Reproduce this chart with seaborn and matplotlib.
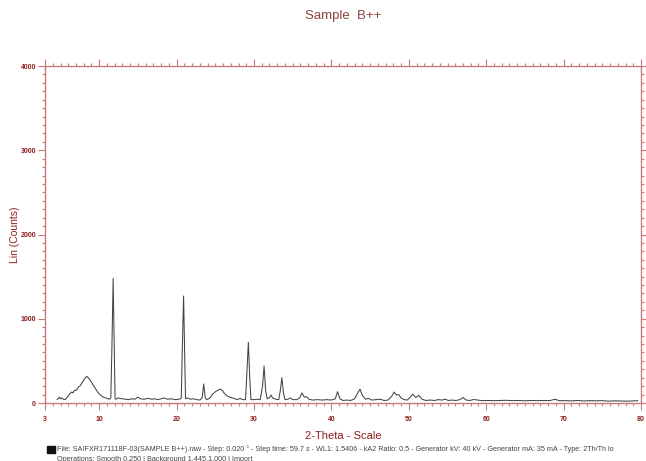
import matplotlib
matplotlib.use("Agg")
import numpy as np
import pandas as pd
import seaborn as sns
import matplotlib.pyplot as plt
from matplotlib.ticker import FixedLocator, MultipleLocator
from matplotlib.patches import Rectangle

# 2-theta positions (deg) and intensities (counts)
two_theta = [4.55, 4.7, 4.85, 5.0, 5.15, 5.35, 5.6, 5.8, 6.0, 6.2, 6.45, 6.6, 6.8, 7.1, 7.3, 7.5,
             7.75, 8.0, 8.2, 8.4, 8.6, 8.8, 9.1, 9.45, 9.8, 10.1, 10.5, 11.0, 11.3, 11.5, 11.65,
             11.8, 11.95, 12.05, 12.2, 12.4, 12.7, 13.0, 13.4, 13.8, 14.2, 14.6, 15.0, 15.3,
             15.8, 16.3, 16.8, 17.2, 17.6, 18.0, 18.4, 18.8, 19.3, 19.8, 20.3, 20.6, 20.75,
             20.9, 21.05, 21.15, 21.4, 21.8, 22.2, 22.6, 23.0, 23.3, 23.5, 23.7, 23.9, 24.3,
             24.7, 25.1, 25.6, 25.9, 26.2, 26.6, 27.0, 27.4, 27.8, 28.2, 28.5, 28.9, 29.05,
             29.27, 29.45, 29.6, 30.0, 30.4, 30.8, 31.1, 31.3, 31.5, 31.7, 32.0, 32.2, 32.4,
             32.8, 33.2, 33.4, 33.6, 33.8, 34.0, 34.4, 34.7, 35.0, 35.5, 35.9, 36.2, 36.5,
             36.8, 37.1, 37.6, 38.2, 38.8, 39.4, 40.0, 40.5, 40.8, 41.1, 41.5, 42.0, 42.5,
             43.0, 43.4, 43.7, 44.0, 44.4, 44.8, 45.2, 45.7, 46.3, 46.8, 47.3, 47.8, 48.1,
             48.4, 48.7, 49.0, 49.4, 49.8, 50.2, 50.5, 50.9, 51.3, 51.7, 52.2, 52.8, 53.3,
             53.8, 54.3, 54.7, 55.1, 55.6, 56.1, 56.6, 57.0, 57.4, 57.9, 58.4, 58.9, 59.5,
             60.2, 61.0, 61.8, 62.6, 63.4, 64.2, 65.0, 65.8, 66.6, 67.4, 68.2, 68.9, 69.4,
             70.2, 71.0, 71.8, 72.6, 73.4, 74.2, 75.0, 75.8, 76.6, 77.4, 78.2, 79.0, 79.6]
counts = [40, 55, 68, 50, 60, 45, 40, 62, 80, 110, 130, 120, 150, 155, 190, 200,
          235, 270, 300, 315, 300, 275, 230, 180, 130, 100, 70, 55, 45, 60, 700,
          1480, 600, 50, 45, 60, 55, 50, 45, 40, 50, 45, 70, 50,
          45, 55, 45, 50, 40, 50, 60, 45, 50, 40, 45, 55, 700,
          1270, 500, 50, 60, 45, 50, 40, 35, 60, 226, 60, 40, 60,
          110, 140, 165, 150, 110, 80, 65, 55, 40, 55, 40, 40, 300,
          720, 300, 40, 40, 45, 40, 200, 440, 150, 50, 65, 95, 60,
          45, 40, 150, 300, 120, 40, 45, 60, 40, 40, 60, 120, 70,
          75, 45, 35, 40, 35, 40, 35, 50, 135, 50, 30, 35, 30,
          50, 120, 165, 90, 45, 55, 35, 40, 45, 30, 35, 80, 130,
          95, 100, 60, 40, 35, 70, 105, 65, 90, 45, 30, 35, 30,
          40, 35, 45, 30, 35, 30, 40, 65, 35, 30, 42, 35, 28,
          30, 28, 30, 32, 28, 30, 26, 30, 28, 30, 28, 45, 28,
          28, 25, 30, 24, 28, 26, 28, 22, 26, 24, 22, 25, 28]

x_ticks = [3, 10, 20, 30, 40, 50, 60, 70, 80]
y_ticks = [0, 1000, 2000, 3000, 4000]

title = "Sample  B++"
info_lines = [
    "File: SAIFXR171118F-03(SAMPLE B++).raw - Step: 0.020 \u00b0 - Step time: 59.7 s - WL1: 1.5406 - kA2 Ratio: 0.5 - "
    "Generator kV: 40 kV - Generator mA: 35 mA - Type: 2Th/Th lo",
    "Operations: Smooth 0.250 | Background 1.445,1.000 | Import",
]

axis_col = "#c97a7a"
label_col = "#8e1c1c"

sns.set_theme(style="white")
plt.rcParams["font.family"] = ["Liberation Sans", "DejaVu Sans"]

df = pd.DataFrame({"2theta": two_theta, "counts": counts})

fig = plt.figure(figsize=(6.46, 4.61), dpi=100)
ax = fig.add_axes([0.0697, 0.1258, 0.9226, 0.731])

sns.lineplot(data=df, x="2theta", y="counts", ax=ax, estimator=None, sort=False,
             color="#444444", linewidth=0.75)

ax.set_xlim(3, 80)
ax.set_ylim(0, 4000)
ax.xaxis.set_major_locator(FixedLocator(x_ticks))
ax.xaxis.set_minor_locator(MultipleLocator(1))
ax.yaxis.set_major_locator(FixedLocator(y_ticks))
ax.yaxis.set_minor_locator(MultipleLocator(100))

for s in ax.spines.values():
    s.set_color(axis_col)
    s.set_linewidth(1.0)

ax.tick_params(which="both", direction="out", top=True, right=True, bottom=True, left=True,
               color=axis_col, width=0.8)
ax.tick_params(which="major", length=5, labelsize=5, labelcolor=label_col, pad=4)
ax.tick_params(which="minor", length=2.5)
ax.tick_params(axis="y", which="major", pad=1.5)
for lab in ax.get_xticklabels() + ax.get_yticklabels():
    lab.set_fontweight("bold")

ax.set_xlabel("2-Theta - Scale", fontsize=8, color=label_col, labelpad=6)
ax.set_ylabel("Lin (Counts)", fontsize=7.5, color=label_col, labelpad=0)

fig.text(0.532, 0.965, title, ha="center", va="center", fontsize=9.5, color="#8b4545")

fig.patches.append(Rectangle((47 / 646, 1 - 453 / 461), 8 / 646, 7 / 461,
                             transform=fig.transFigure, color="#111111"))
fig.text(57 / 646, 1 - 449 / 461, info_lines[0], ha="left", va="center", fontsize=5.2, color="#444444")
fig.text(57 / 646, 1 - 459 / 461, info_lines[1], ha="left", va="center", fontsize=5.2, color="#444444")

fig.savefig("out.png", dpi=100)
